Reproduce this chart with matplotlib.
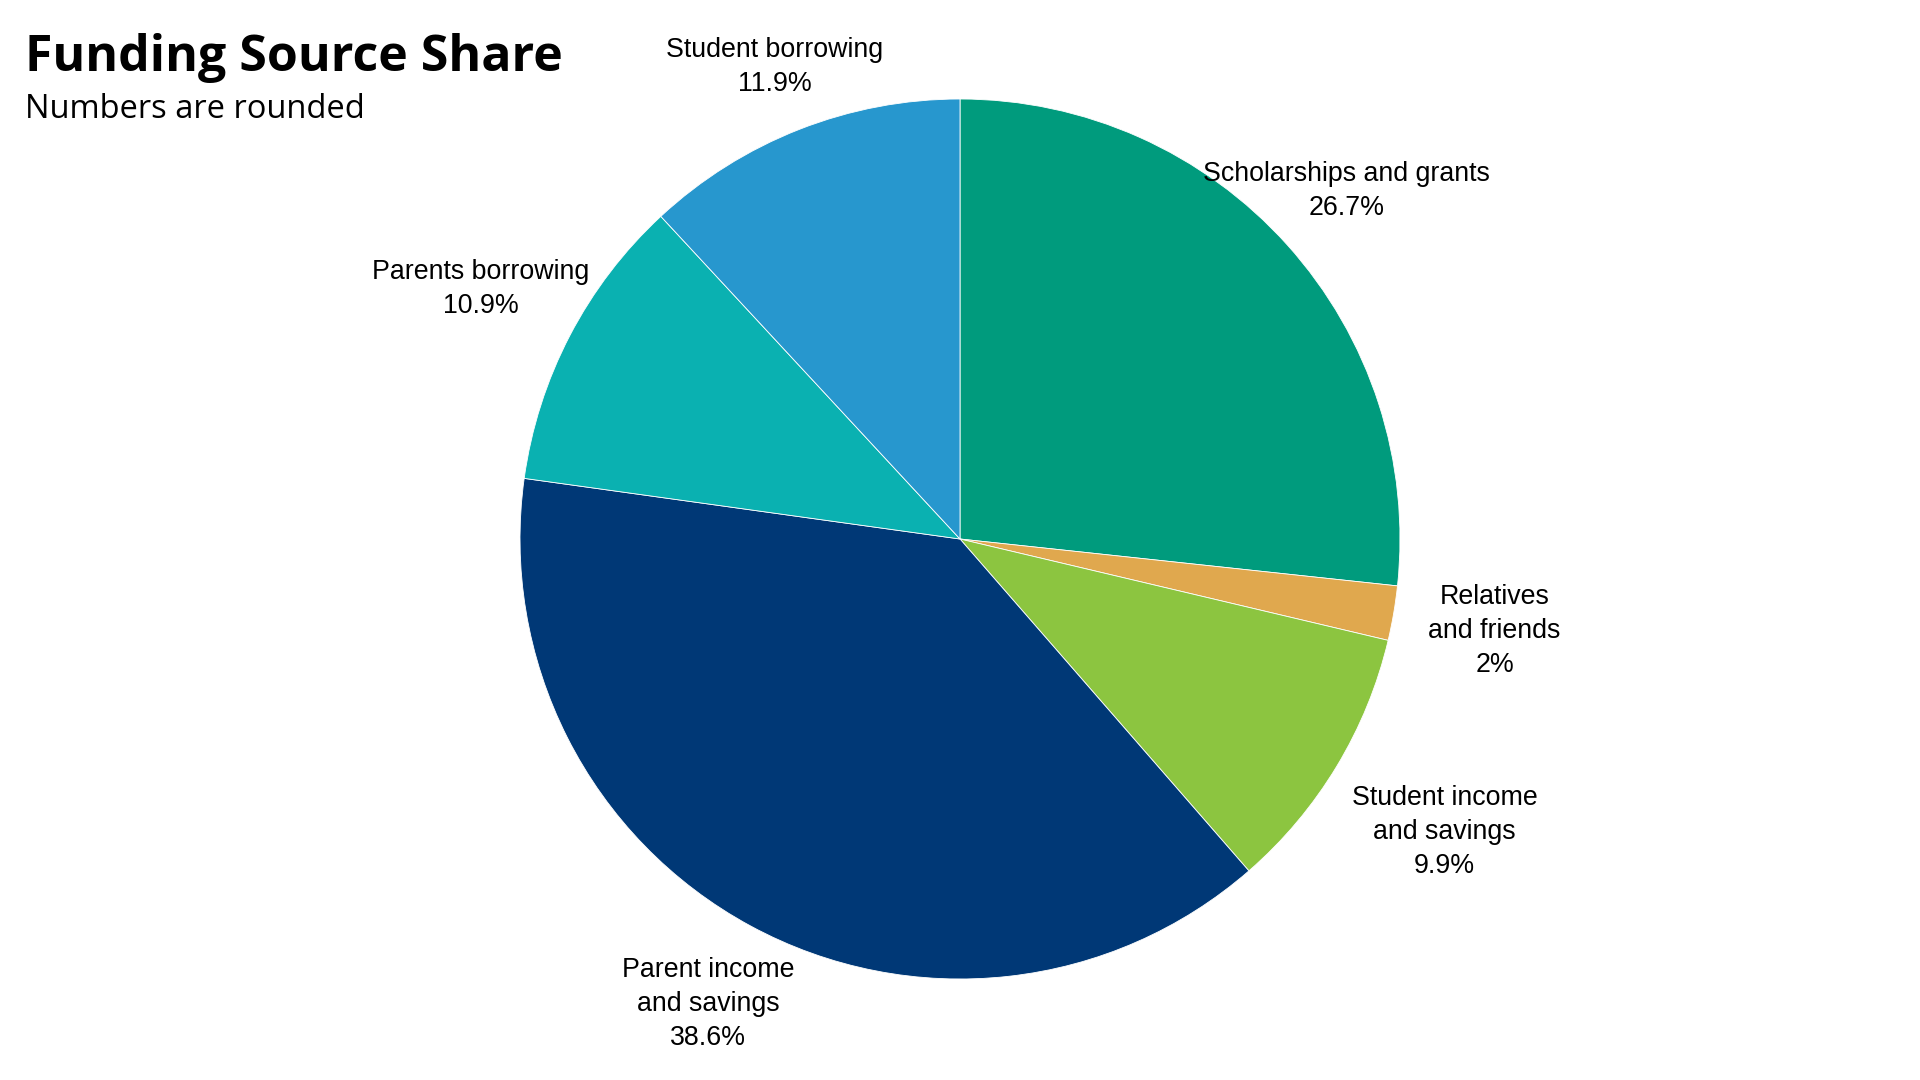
import numpy as np
import matplotlib.pyplot as plt

# data
sources = ["Scholarships and grants", "Relatives\nand friends", "Student income\nand savings",
           "Parent income\nand savings", "Parents borrowing", "Student borrowing"]
shares = [26.7, 2.0, 9.9, 38.6, 10.9, 11.9]
share_labels = ["26.7%", "2%", "9.9%", "38.6%", "10.9%", "11.9%"]
colors = ["#009b7d", "#e0a84e", "#8cc540", "#003876", "#0ab1b1", "#2797ce"]

W, H = 1920, 1080
fig = plt.figure(figsize=(W / 100, H / 100), dpi=100)

# pie axes: 1 data unit = 440 px, centred at (960, 541) from the bottom
R = 440
half = 540 / R
ax = fig.add_axes([(960 - 540) / W, (541 - 540) / H, 1080 / W, 1080 / H])
wedges, _ = ax.pie(shares, colors=colors, startangle=90, counterclock=False,
                   wedgeprops=dict(edgecolor="white", linewidth=0.6))
ax.set_xlim(-half, half)
ax.set_ylim(-half, half)
ax.set_aspect("equal")
ax.axis("off")

fig.canvas.draw()
renderer = fig.canvas.get_renderer()
gap = 1.08
for w, name, lab in zip(wedges, sources, share_labels):
    ang = np.deg2rad((w.theta1 + w.theta2) / 2)
    dx, dy = np.cos(ang), np.sin(ang)
    t = ax.text(0, 0, name + "\n" + lab, ha="center", va="center",
                fontsize=19.3, family="Liberation Sans", linespacing=1.4)
    bb = t.get_window_extent(renderer)
    hw = bb.width / 2 / R
    hh = bb.height / 2 / R
    off = min(hw / abs(dx) if abs(dx) > 1e-6 else 1e9,
              hh / abs(dy) if abs(dy) > 1e-6 else 1e9)
    d = gap + off
    t.set_position((dx * d, dy * d))

fig.text(25 / W, 1 - 71 / H, "Funding Source Share", fontsize=36, fontweight="bold",
         family="Open Sans", va="baseline")
fig.text(25 / W, 1 - 118 / H, "Numbers are rounded", fontsize=23.5,
         family="Open Sans", va="baseline")

fig.savefig("out.png", dpi=100, facecolor="white")
